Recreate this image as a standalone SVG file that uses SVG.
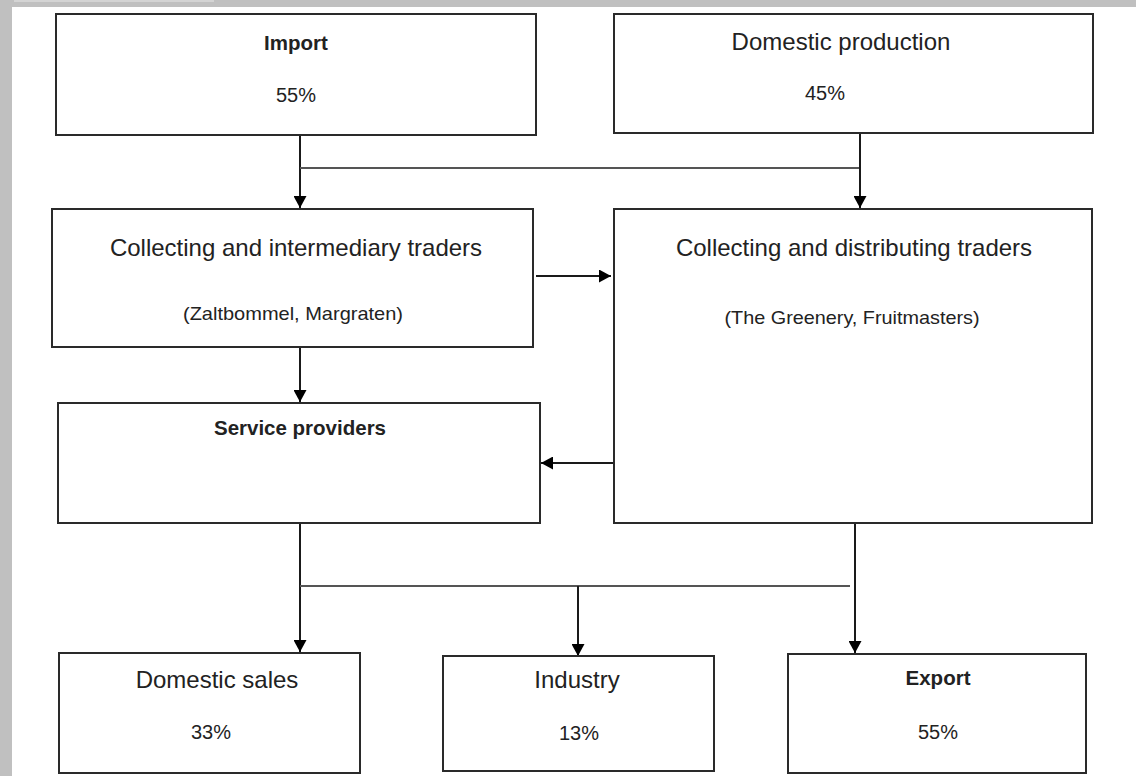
<svg xmlns="http://www.w3.org/2000/svg" width="1136" height="776" viewBox="0 0 1136 776">
<style>
.box{fill:#fff;stroke:#2a2a2a;stroke-width:2}
.t{font-family:"Liberation Sans",Arial,sans-serif;fill:#222;text-anchor:middle}
.lg{font-size:24px}
.pc{font-size:20px}
.b{font-size:20.5px;font-weight:bold}
.sm{font-size:19px}
.ln{fill:none;stroke:#1a1a1a;stroke-width:2}
.bus{fill:none;stroke:#555;stroke-width:2}
</style>
<defs>
<marker id="ah" markerWidth="13" markerHeight="13" refX="12" refY="6.5" orient="auto" markerUnits="userSpaceOnUse">
<path d="M0,0 L12,6.5 L0,13 Z" fill="#000"/>
</marker>
</defs>
<rect x="0" y="0" width="1136" height="776" fill="#fff"/>
<rect x="0" y="0" width="12" height="776" fill="#c0c0c0"/>
<rect x="0" y="0" width="1136" height="7" fill="#c0c0c0"/>
<rect x="14" y="0" width="200" height="2" fill="#d4d4d4"/>

<g id="connectors">
<line class="ln" x1="300" y1="135" x2="300" y2="208" marker-end="url(#ah)"/>
<line class="bus" x1="300" y1="168" x2="860" y2="168"/>
<line class="ln" x1="860" y1="133" x2="860" y2="208" marker-end="url(#ah)"/>
<line class="ln" x1="536" y1="276" x2="611" y2="276" marker-end="url(#ah)"/>
<line class="ln" x1="300" y1="332" x2="300" y2="402" marker-end="url(#ah)"/>
<line class="ln" x1="613" y1="463" x2="541" y2="463" marker-end="url(#ah)"/>
<line class="ln" x1="300" y1="523" x2="300" y2="652" marker-end="url(#ah)"/>
<line class="bus" x1="300" y1="586" x2="850" y2="586"/>
<line class="ln" x1="578" y1="586" x2="578" y2="656" marker-end="url(#ah)"/>
<line class="ln" x1="855" y1="523" x2="855" y2="653" marker-end="url(#ah)"/>
</g>

<g id="import">
<rect class="box" x="56" y="14" width="480" height="121"/>
<text class="t b" x="296" y="50">Import</text>
<text class="t pc" x="296" y="102">55%</text>
</g>

<g id="domestic-production">
<rect class="box" x="614" y="14" width="479" height="119"/>
<text class="t lg" x="841" y="50">Domestic production</text>
<text class="t pc" x="825" y="100">45%</text>
</g>

<g id="intermediary-traders">
<rect class="box" x="52" y="209" width="481" height="138"/>
<text class="t lg" x="296" y="256">Collecting and intermediary traders</text>
<text class="t sm" x="293" y="320" textLength="220" lengthAdjust="spacingAndGlyphs">(Zaltbommel, Margraten)</text>
</g>

<g id="distributing-traders">
<rect class="box" x="614" y="209" width="478" height="314"/>
<text class="t lg" x="854" y="256">Collecting and distributing traders</text>
<text class="t sm" x="852" y="324" textLength="255" lengthAdjust="spacingAndGlyphs">(The Greenery, Fruitmasters)</text>
</g>

<g id="service-providers">
<rect class="box" x="58" y="403" width="482" height="120"/>
<text class="t b" x="300" y="435">Service providers</text>
</g>

<g id="domestic-sales">
<rect class="box" x="59" y="653" width="301" height="120"/>
<text class="t lg" x="217" y="688">Domestic sales</text>
<text class="t pc" x="211" y="739">33%</text>
</g>

<g id="industry">
<rect class="box" x="443" y="656" width="271" height="115"/>
<text class="t lg" x="577" y="688">Industry</text>
<text class="t pc" x="579" y="740">13%</text>
</g>

<g id="export">
<rect class="box" x="788" y="654" width="298" height="119"/>
<text class="t b" x="938" y="685">Export</text>
<text class="t pc" x="938" y="739">55%</text>
</g>
</svg>
